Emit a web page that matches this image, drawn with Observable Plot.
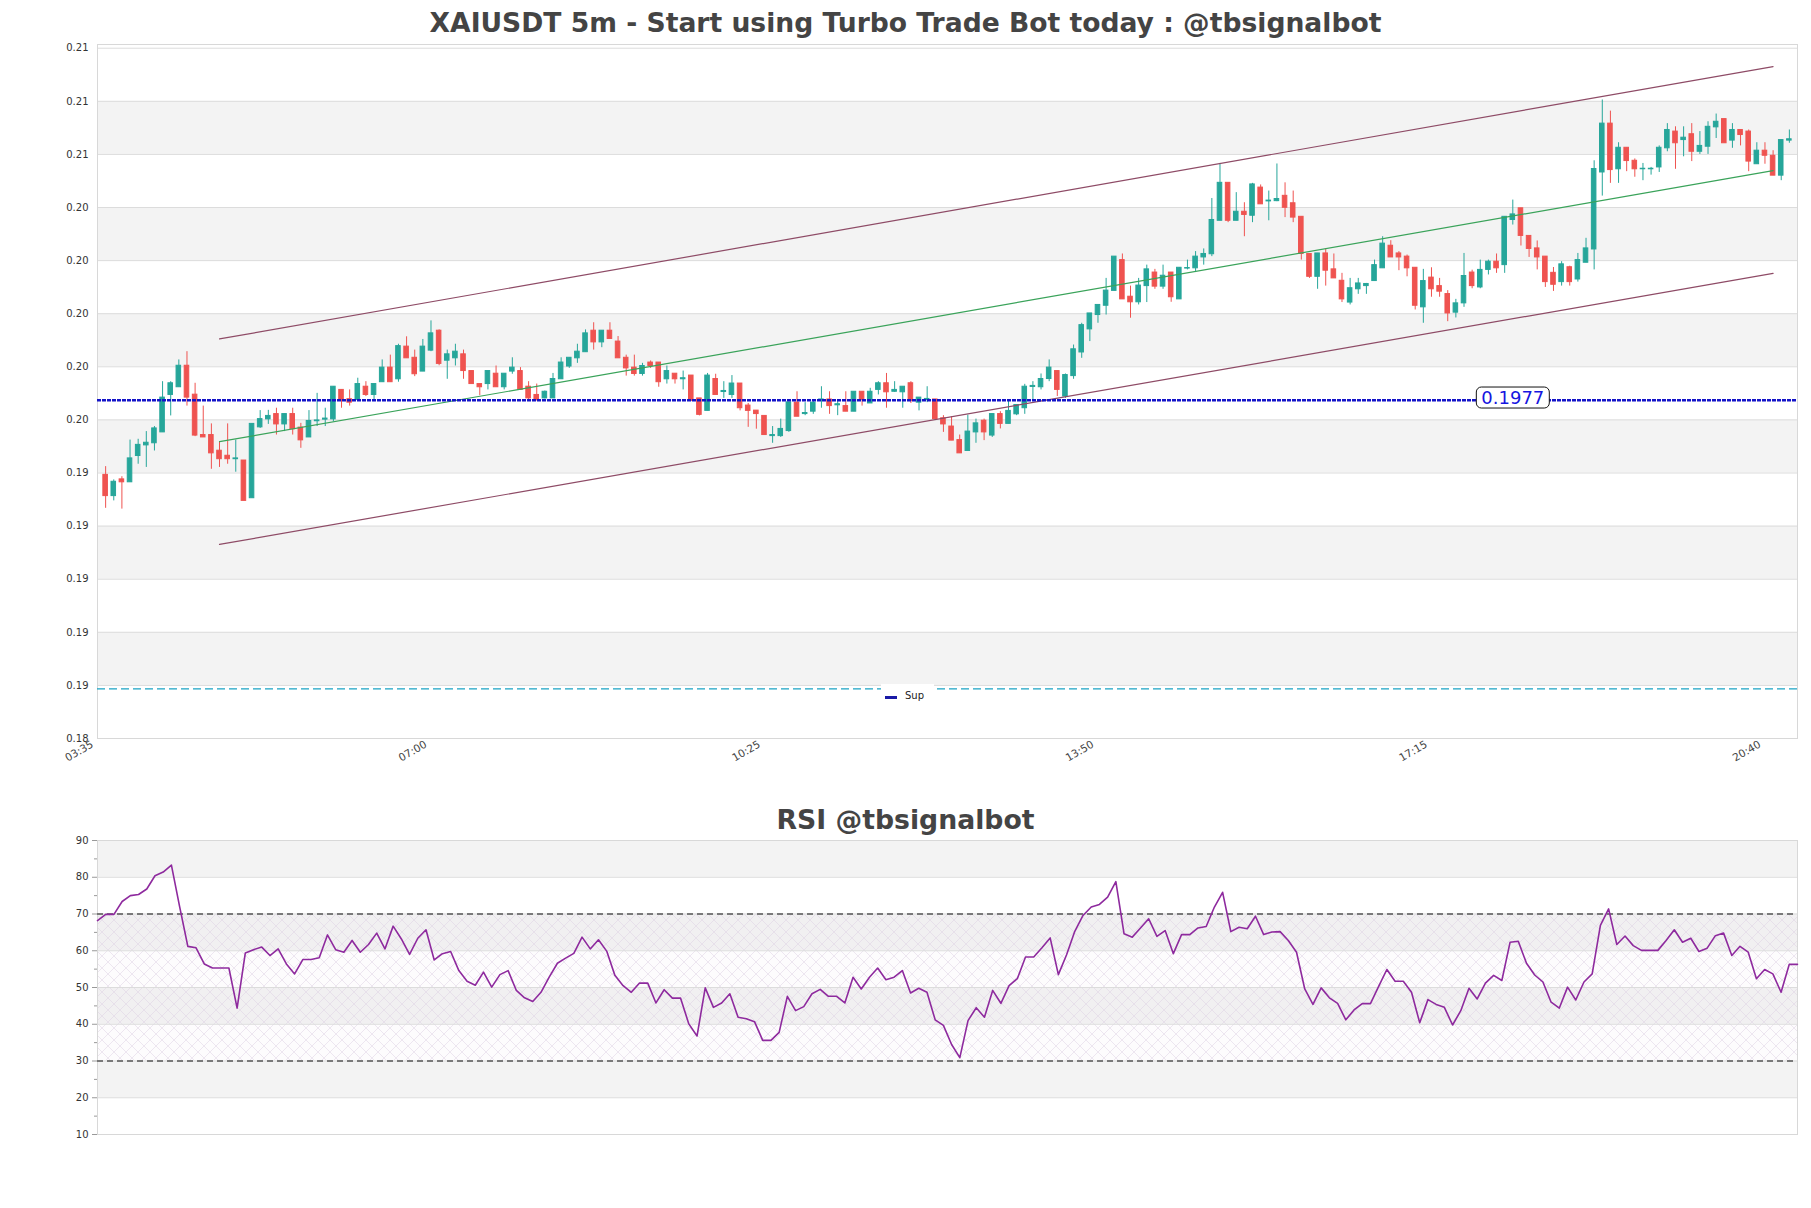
<!DOCTYPE html>
<html>
<head>
<meta charset="utf-8">
<script src="https://cdn.jsdelivr.net/npm/d3@7"></script>
<script src="https://cdn.jsdelivr.net/npm/@observablehq/plot@0.6"></script>
<style>
  html, body { margin: 0; padding: 0; background: #fff; }
  body { width: 1811px; height: 1208px; overflow: hidden; position: relative; font-family: "DejaVu Sans", sans-serif; }
  .title { position: absolute; left: 0; width: 1811px; text-align: center; font-weight: bold; color: #444; white-space: nowrap; }
  #main, #rsi { position: absolute; left: 0; }
  #legend { position: absolute; left: 881px; top: 684px; width: 53px; height: 25px; background: #fff; }
  #legend .sw { position: absolute; left: 4px; top: 12px; width: 12px; height: 2.5px; background: #1a1aa6; }
  #legend .lb { position: absolute; left: 24px; top: 5px; font-size: 10px; color: #222; line-height: 14px; }
</style>
</head>
<body>
<div class="title" style="top:0;height:46px;line-height:46px;font-size:26.6px">XAIUSDT 5m - Start using Turbo Trade Bot today : @tbsignalbot</div>
<div id="main" style="top:40px"></div>
<div id="legend"><div class="sw"></div><div class="lb">Sup</div></div>
<div class="title" style="top:800px;height:40px;line-height:40px;font-size:26.7px">RSI @tbsignalbot</div>
<div id="rsi" style="top:830px"></div>
<script>
// ---------------- data ----------------
const axisStartTime = "03:35";
const candleStartTime = "03:40";
const timeTickLabels = ["03:35", "07:00", "10:25", "13:50", "17:15", "20:40"];

const opens = [
0.19489,0.19409,0.19472,0.19461,0.19560,0.19600,0.19608,0.19649,0.19790,0.19819,
0.19900,0.19791,0.19639,0.19639,0.19580,0.19561,0.19548,0.19543,0.19401,0.19668,
0.19698,0.19718,0.19679,0.19718,0.19667,0.19630,0.19691,0.19697,0.19698,0.19809,
0.19774,0.19771,0.19821,0.19790,0.19838,0.19893,0.19849,0.19972,0.19930,0.19878,
0.19957,0.20032,0.19919,0.19928,0.19943,0.19880,0.19831,0.19831,0.19870,0.19819,
0.19878,0.19880,0.19821,0.19790,0.19777,0.19777,0.19849,0.19897,0.19928,0.19951,
0.20032,0.19988,0.20032,0.19991,0.19930,0.19893,0.19869,0.19912,0.19912,0.19849,
0.19870,0.19849,0.19863,0.19777,0.19730,0.19850,0.19801,0.19790,0.19833,0.19750,
0.19731,0.19711,0.19635,0.19635,0.19654,0.19761,0.19718,0.19727,0.19770,0.19773,
0.19751,0.19748,0.19727,0.19802,0.19758,0.19809,0.19834,0.19802,0.19800,0.19834,
0.19761,0.19771,0.19773,0.19702,0.19671,0.19620,0.19579,0.19649,0.19693,0.19637,
0.19718,0.19681,0.19717,0.19740,0.19820,0.19819,0.19850,0.19880,0.19784,0.19861,
0.19950,0.20037,0.20091,0.20126,0.20182,0.20298,0.20160,0.20139,0.20200,0.20251,
0.20198,0.20251,0.20150,0.20266,0.20267,0.20308,0.20320,0.20446,0.20589,0.20446,
0.20480,0.20465,0.20571,0.20519,0.20520,0.20540,0.20512,0.20461,0.20321,0.20235,
0.20323,0.20263,0.20220,0.20138,0.20188,0.20200,0.20219,0.20267,0.20352,0.20323,
0.20311,0.20269,0.20120,0.20232,0.20200,0.20170,0.20100,0.20135,0.20251,0.20195,
0.20261,0.20292,0.20279,0.20449,0.20493,0.20389,0.20342,0.20311,0.20250,0.20215,
0.20271,0.20225,0.20288,0.20338,0.20628,0.20812,0.20640,0.20721,0.20672,0.20640,
0.20640,0.20647,0.20719,0.20782,0.20750,0.20772,0.20706,0.20725,0.20798,0.20829,
0.20748,0.20788,0.20782,0.20659,0.20710,0.20691,0.20616,0.20748];
const highs = [
0.19520,0.19470,0.19482,0.19620,0.19623,0.19652,0.19671,0.19840,0.19840,0.19922,
0.19953,0.19834,0.19748,0.19681,0.19614,0.19681,0.19620,0.19543,0.19681,0.19731,
0.19732,0.19740,0.19718,0.19740,0.19683,0.19731,0.19796,0.19740,0.19821,0.19809,
0.19809,0.19853,0.19840,0.19831,0.19922,0.19940,0.19981,0.20009,0.19959,0.19999,
0.20069,0.20035,0.19959,0.19981,0.19959,0.19880,0.19831,0.19880,0.19899,0.19870,
0.19930,0.19893,0.19840,0.19831,0.19805,0.19871,0.19930,0.19930,0.19981,0.20035,
0.20062,0.20032,0.20062,0.20010,0.19940,0.19940,0.19909,0.19918,0.19912,0.19899,
0.19870,0.19880,0.19863,0.19777,0.19871,0.19868,0.19840,0.19863,0.19833,0.19758,
0.19731,0.19711,0.19671,0.19699,0.19762,0.19802,0.19761,0.19771,0.19821,0.19802,
0.19771,0.19802,0.19802,0.19802,0.19815,0.19840,0.19871,0.19840,0.19821,0.19840,
0.19780,0.19821,0.19773,0.19712,0.19708,0.19639,0.19714,0.19699,0.19699,0.19718,
0.19727,0.19767,0.19752,0.19830,0.19840,0.19869,0.19922,0.19880,0.19869,0.19978,
0.20060,0.20097,0.20129,0.20229,0.20311,0.20321,0.20200,0.20229,0.20279,0.20263,
0.20279,0.20251,0.20269,0.20298,0.20330,0.20340,0.20530,0.20662,0.20589,0.20552,
0.20514,0.20587,0.20581,0.20558,0.20660,0.20589,0.20558,0.20461,0.20321,0.20323,
0.20340,0.20321,0.20248,0.20229,0.20229,0.20210,0.20298,0.20386,0.20371,0.20330,
0.20317,0.20269,0.20263,0.20269,0.20229,0.20183,0.20150,0.20323,0.20260,0.20298,
0.20298,0.20321,0.20461,0.20524,0.20493,0.20389,0.20370,0.20311,0.20270,0.20292,
0.20275,0.20323,0.20380,0.20672,0.20901,0.20859,0.20740,0.20721,0.20679,0.20662,
0.20647,0.20728,0.20812,0.20800,0.20800,0.20812,0.20782,0.20819,0.20848,0.20829,
0.20812,0.20788,0.20788,0.20740,0.20740,0.20710,0.20750,0.20788];
const lows = [
0.19363,0.19391,0.19360,0.19461,0.19529,0.19517,0.19579,0.19649,0.19711,0.19819,
0.19748,0.19633,0.19630,0.19510,0.19517,0.19529,0.19499,0.19391,0.19401,0.19664,
0.19679,0.19639,0.19652,0.19639,0.19589,0.19630,0.19671,0.19671,0.19689,0.19740,
0.19748,0.19767,0.19784,0.19765,0.19838,0.19838,0.19838,0.19928,0.19859,0.19878,
0.19953,0.19900,0.19849,0.19899,0.19849,0.19831,0.19787,0.19809,0.19819,0.19809,
0.19868,0.19809,0.19771,0.19767,0.19775,0.19777,0.19849,0.19890,0.19909,0.19951,
0.19959,0.19968,0.20001,0.19928,0.19861,0.19861,0.19861,0.19890,0.19819,0.19831,
0.19831,0.19809,0.19765,0.19711,0.19730,0.19790,0.19777,0.19777,0.19730,0.19668,
0.19661,0.19639,0.19608,0.19630,0.19649,0.19708,0.19712,0.19717,0.19740,0.19717,
0.19712,0.19727,0.19727,0.19748,0.19758,0.19790,0.19740,0.19800,0.19740,0.19758,
0.19730,0.19761,0.19696,0.19649,0.19618,0.19570,0.19579,0.19608,0.19618,0.19630,
0.19662,0.19681,0.19712,0.19717,0.19765,0.19809,0.19840,0.19784,0.19777,0.19849,
0.19928,0.19991,0.20060,0.20091,0.20182,0.20150,0.20079,0.20129,0.20138,0.20188,
0.20188,0.20139,0.20150,0.20261,0.20251,0.20279,0.20311,0.20446,0.20439,0.20446,
0.20386,0.20439,0.20508,0.20446,0.20518,0.20458,0.20439,0.20298,0.20229,0.20188,
0.20200,0.20229,0.20138,0.20129,0.20169,0.20169,0.20219,0.20267,0.20308,0.20258,
0.20235,0.20110,0.20060,0.20158,0.20158,0.20066,0.20080,0.20120,0.20190,0.20190,
0.20242,0.20248,0.20248,0.20430,0.20351,0.20308,0.20261,0.20195,0.20180,0.20200,
0.20200,0.20215,0.20288,0.20261,0.20539,0.20587,0.20587,0.20631,0.20610,0.20597,
0.20618,0.20628,0.20706,0.20640,0.20687,0.20669,0.20696,0.20696,0.20756,0.20738,
0.20719,0.20728,0.20631,0.20659,0.20659,0.20616,0.20597,0.20738];
const closes = [
0.19409,0.19463,0.19461,0.19551,0.19602,0.19610,0.19664,0.19780,0.19834,0.19900,
0.19780,0.19637,0.19630,0.19570,0.19548,0.19548,0.19551,0.19391,0.19681,0.19699,
0.19711,0.19679,0.19718,0.19661,0.19619,0.19692,0.19694,0.19701,0.19821,0.19771,
0.19761,0.19831,0.19790,0.19831,0.19893,0.19838,0.19974,0.19928,0.19868,0.19972,
0.20022,0.19907,0.19943,0.19953,0.19880,0.19831,0.19819,0.19880,0.19819,0.19870,
0.19893,0.19809,0.19777,0.19771,0.19802,0.19850,0.19912,0.19930,0.19953,0.20022,
0.19988,0.20032,0.20001,0.19928,0.19890,0.19869,0.19899,0.19899,0.19838,0.19880,
0.19849,0.19853,0.19769,0.19715,0.19863,0.19790,0.19805,0.19833,0.19740,0.19730,
0.19718,0.19639,0.19639,0.19662,0.19762,0.19708,0.19722,0.19761,0.19773,0.19748,
0.19755,0.19727,0.19802,0.19771,0.19802,0.19834,0.19800,0.19809,0.19821,0.19767,
0.19780,0.19775,0.19699,0.19679,0.19618,0.19570,0.19652,0.19683,0.19649,0.19718,
0.19681,0.19730,0.19752,0.19821,0.19824,0.19850,0.19893,0.19809,0.19865,0.19962,
0.20053,0.20097,0.20129,0.20183,0.20311,0.20150,0.20139,0.20202,0.20263,0.20198,
0.20239,0.20158,0.20269,0.20268,0.20311,0.20321,0.20449,0.20589,0.20446,0.20480,
0.20468,0.20583,0.20508,0.20522,0.20528,0.20495,0.20458,0.20321,0.20235,0.20323,
0.20258,0.20229,0.20150,0.20192,0.20210,0.20208,0.20279,0.20360,0.20308,0.20308,
0.20267,0.20126,0.20219,0.20188,0.20179,0.20097,0.20135,0.20238,0.20200,0.20261,
0.20292,0.20267,0.20461,0.20470,0.20389,0.20340,0.20308,0.20215,0.20205,0.20282,
0.20215,0.20298,0.20342,0.20641,0.20812,0.20637,0.20721,0.20671,0.20640,0.20642,
0.20642,0.20721,0.20788,0.20738,0.20759,0.20706,0.20728,0.20800,0.20819,0.20738,
0.20788,0.20769,0.20669,0.20710,0.20691,0.20616,0.20750,0.20753];

const rsiValues = [
68.2,69.9,69.9,73.4,75.0,75.3,76.8,80.4,81.4,83.3,
72.0,61.2,60.8,56.4,55.3,55.3,55.3,44.4,59.4,60.3,
61.0,58.7,60.5,56.4,53.7,57.6,57.6,58.1,64.3,60.3,
59.6,62.8,59.6,61.7,64.8,60.5,66.7,63.2,59.0,63.4,
65.7,57.5,59.2,59.8,54.6,51.7,50.6,54.2,50.1,53.5,
54.6,49.2,47.2,46.2,48.7,52.8,56.6,58.0,59.3,63.7,
60.5,63.0,59.9,53.3,50.5,48.7,51.2,51.2,45.8,49.4,
47.1,47.1,40.1,36.8,49.9,44.6,45.8,48.3,41.9,41.5,
40.7,35.6,35.6,37.8,47.6,43.7,44.8,48.3,49.5,47.6,
47.6,45.8,52.8,49.6,52.8,55.3,52.1,52.8,54.6,48.5,
49.8,48.7,41.2,39.7,34.5,30.9,41.0,44.5,41.9,49.2,
45.7,50.5,52.4,58.3,58.3,60.8,63.5,53.5,58.9,65.3,
69.6,71.9,72.6,74.6,78.8,64.6,63.7,66.2,68.7,63.9,
65.5,59.2,64.4,64.4,66.2,66.6,71.9,75.9,65.2,66.4,
66.0,69.4,64.4,65.1,65.2,62.8,59.6,49.6,45.4,49.9,
47.2,45.7,41.2,43.9,45.6,45.6,50.3,54.9,51.7,51.7,
48.7,40.4,46.7,45.4,44.6,39.8,43.7,49.8,46.9,51.2,
53.3,51.9,62.3,62.6,56.6,53.4,51.5,46.0,44.4,50.1,
46.6,51.5,53.7,66.9,71.4,61.7,64.0,61.4,60.1,60.1,
60.1,62.8,65.7,62.3,63.4,59.8,60.7,64.1,64.8,58.7,
61.2,59.6,52.4,54.9,53.7,48.7,56.3,56.3];

const priceTicks = [0.18496,0.18696,0.18896,0.19096,0.19296,0.19496,0.19696,
                    0.19896,0.20096,0.20296,0.20496,0.20696,0.20896,0.21096];
const priceDomain = [0.18496, 0.21110];

const channelPos = [15, 206];
const channelUpper = [0.20001, 0.21027];
const channelMid = [0.19614, 0.20635];
const channelLower = [0.19227, 0.20248];

const supLevel = 0.1977;
const supLabelPos = 174;
const lowerDashLevel = 0.18683;

const rsiTicks = [10,20,30,40,50,60,70,80,90];
const rsiMinorTicks = [15,25,35,45,55,65,75,85];
const rsiGrayBands = [[80,90],[60,70],[40,50],[20,30]];
const rsiZone = [30, 70];

// ---------------- helpers ----------------
const toMin = s => +s.slice(0, 2) * 60 + +s.slice(3, 5);
const posOf = s => (toMin(s) - toMin(axisStartTime)) / 5;
const firstPos = posOf(candleStartTime);
const candles = opens.map((o, i) => ({
  p: firstPos + i, o, h: highs[i], l: lows[i], c: closes[i], up: closes[i] >= o
}));
const GREEN = "#26a69a", RED = "#ef5350";
const colorOf = d => d.up ? GREEN : RED;
const lastPos = candles[candles.length - 1].p;
const tickPos = timeTickLabels.map(posOf);
const labelAt = new Map(tickPos.map((p, i) => [p, timeTickLabels[i]]));

const bands = priceTicks.slice(0, -1).map((v, k) => ({y1: v, y2: priceTicks[k + 1], k}))
  .filter(d => d.k % 2 === 1);
const chan = (vals) => channelPos.map((p, i) => ({p, v: vals[i]}));

// ---------------- main chart ----------------
const main = Plot.plot({
  width: 1811, height: 748,
  marginLeft: 97, marginRight: 14, marginTop: 4, marginBottom: 50,
  style: {fontFamily: "DejaVu Sans", fontSize: "10px", color: "#333", background: "transparent"},
  x: {domain: [posOf(axisStartTime), lastPos + 1]},
  y: {domain: priceDomain},
  marks: [
    Plot.rect(bands, {y1: "y1", y2: "y2", fill: "#f3f3f3"}),
    Plot.ruleY(priceTicks, {stroke: "#dcdcdc", strokeWidth: 1}),
    Plot.frame({stroke: "#d8d8d8"}),
    Plot.axisY(priceTicks, {tickSize: 0, tickPadding: 9, tickFormat: d3.format(".2f"), label: null, fontSize: 10}),
    Plot.axisX(tickPos, {tickSize: 0, tickPadding: 5, dx: -5, tickRotate: -30, tickFormat: d => labelAt.get(d), label: null, fontSize: 10.6, fill: "#444"}),
    Plot.ruleY([lowerDashLevel], {stroke: "#1aa3c4", strokeWidth: 1.2, strokeDasharray: "8,4"}),
    Plot.ruleX(candles, {x: "p", y1: "l", y2: "h", stroke: colorOf, strokeWidth: 1}),
    Plot.rect(candles, {x1: d => d.p - 0.28, x2: d => d.p + 0.28, y1: "o", y2: "c", fill: colorOf, stroke: colorOf, strokeWidth: 1}),
    Plot.line(chan(channelUpper), {x: "p", y: "v", stroke: "#8e4b66", strokeWidth: 1.2}),
    Plot.line(chan(channelLower), {x: "p", y: "v", stroke: "#8e4b66", strokeWidth: 1.2}),
    Plot.line(chan(channelMid), {x: "p", y: "v", stroke: "#3aa35a", strokeWidth: 1.2}),
    Plot.ruleY([supLevel], {stroke: "#1414c8", strokeWidth: 2.4, strokeDasharray: "4,1"}),
    Plot.text([{p: supLabelPos, v: supLevel}], {x: "p", y: "v", dy: -2, text: d => d.v.toFixed(4), fill: "#1515e0", fontSize: 18, className: "supLabel"})
  ]
});
document.getElementById("main").appendChild(main);
(function () {
  const t = main.querySelector(".supLabel text");
  if (!t) return;
  const bb = t.getBBox();
  const r = document.createElementNS("http://www.w3.org/2000/svg", "rect");
  r.setAttribute("x", bb.x - 5);
  r.setAttribute("y", bb.y);
  r.setAttribute("width", bb.width + 10);
  r.setAttribute("height", bb.height);
  r.setAttribute("rx", 5);
  r.setAttribute("fill", "#fff");
  r.setAttribute("stroke", "#111");
  r.setAttribute("stroke-width", 1);
  if (t.getAttribute("transform")) r.setAttribute("transform", t.getAttribute("transform"));
  t.parentNode.insertBefore(r, t);
})();

// ---------------- RSI chart ----------------
const rsiData = rsiValues.map((v, i) => ({p: firstPos + i, v}));
const rsi = Plot.plot({
  width: 1811, height: 325,
  marginLeft: 97, marginRight: 14, marginTop: 10, marginBottom: 21,
  style: {fontFamily: "DejaVu Sans", fontSize: "10px", color: "#333", background: "transparent"},
  x: {domain: [rsiData[0].p, rsiData[rsiData.length - 1].p], axis: null},
  y: {domain: [10, 90]},
  marks: [
    Plot.rect(rsiGrayBands, {y1: d => d[0], y2: d => d[1], fill: "#f3f3f3"}),
    Plot.rect([rsiZone], {y1: d => d[0], y2: d => d[1], fill: "#9a60b0", fillOpacity: 0.018}),
    Plot.rect([rsiZone], {y1: d => d[0], y2: d => d[1], fill: "url(#rsiHatch)"}),
    Plot.ruleY(rsiTicks, {stroke: "#dcdcdc"}),
    Plot.frame({stroke: "#d8d8d8"}),
    Plot.axisY(rsiTicks, {tickSize: 5, tickPadding: 4, label: null, stroke: "#999", fontSize: 10}),
    Plot.axisY(rsiMinorTicks, {tickSize: 3, tickFormat: () => "", label: null, stroke: "#999"}),
    Plot.ruleY([rsiZone[1], rsiZone[0]], {stroke: "#555", strokeWidth: 1.3, strokeDasharray: "6,4"}),
    Plot.line(rsiData, {x: "p", y: "v", stroke: "#8e2a9e", strokeWidth: 1.6})
  ]
});
const ns = "http://www.w3.org/2000/svg";
const defs = document.createElementNS(ns, "defs");
defs.innerHTML = '<pattern id="rsiHatch" patternUnits="userSpaceOnUse" width="12" height="12">' +
  '<path d="M0,0L12,12M12,0L0,12M-6,6L6,18M6,-6L18,6M6,-6L-6,6M18,6L6,18" stroke="#ddd0e3" stroke-width="0.5" fill="none"/></pattern>';
rsi.insertBefore(defs, rsi.firstChild);
document.getElementById("rsi").appendChild(rsi);
</script>
</body>
</html>
